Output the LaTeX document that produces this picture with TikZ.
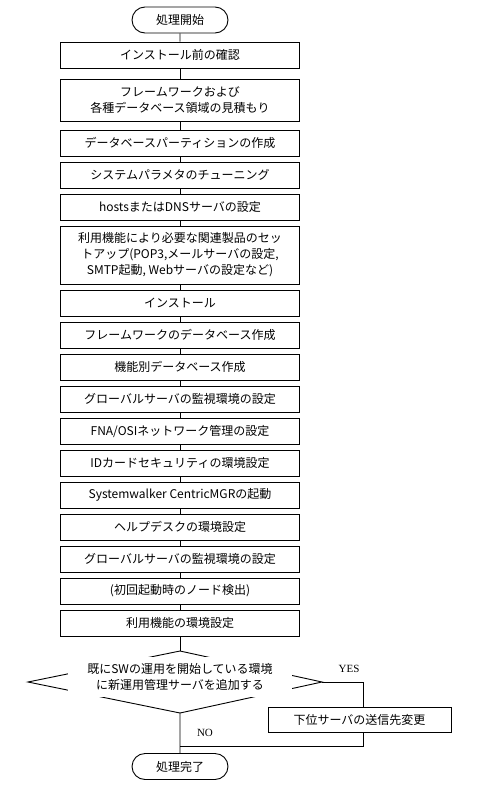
\documentclass[tikz,border=0pt]{standalone}
\usepackage{fontspec}
\setmainfont{Noto Sans CJK JP}
\newfontfamily\yesnofont{Liberation Serif}
\usetikzlibrary{shapes.misc}

\begin{document}
\begin{tikzpicture}[x=1pt,y=-1pt,line width=0.9pt,
	every node/.style={font=\fontsize{12}{16}\selectfont},
	stepbox/.style={draw,minimum width=239pt,minimum height=26pt,inner sep=0pt,align=center},
	termbox/.style={draw,rounded rectangle,minimum width=96pt,minimum height=26pt,inner sep=0pt},
	flagtext/.style={font=\yesnofont\fontsize{11}{13}\selectfont}]
	\useasboundingbox (0,0) rectangle (496,798);
	\node [termbox] (start) at (180,20) {処理開始};
	\node [stepbox] (b1) at (180,55) {インストール前の確認};
	\node [stepbox,minimum height=42pt] (b2) at (180,100) {フレームワークおよび\\各種データベース領域の見積もり};
	\node [stepbox] (b3) at (180,143) {データベースパーティションの作成};
	\node [stepbox] (b4) at (180,175) {システムパラメタのチューニング};
	\node [stepbox] (b5) at (180,207) {hostsまたはDNSサーバの設定};
	\node [stepbox,minimum height=58pt] (b6) at (180,255) {利用機能により必要な関連製品のセッ\\トアップ(POP3,メールサーバの設定,\\SMTP起動, Webサーバの設定など)};
	\node [stepbox] (b7) at (180,303) {インストール};
	\node [stepbox] (b8) at (180,335) {フレームワークのデータベース作成};
	\node [stepbox] (b9) at (180,367) {機能別データベース作成};
	\node [stepbox] (b10) at (180,399) {グローバルサーバの監視環境の設定};
	\node [stepbox] (b11) at (180,431) {FNA/OSIネットワーク管理の設定};
	\node [stepbox] (b12) at (180,463) {IDカードセキュリティの環境設定};
	\node [stepbox] (b13) at (180,495) {Systemwalker CentricMGRの起動};
	\node [stepbox] (b14) at (180,527) {ヘルプデスクの環境設定};
	\node [stepbox] (b15) at (180,559) {グローバルサーバの監視環境の設定};
	\node [stepbox] (b16) at (180,591) {(初回起動時のノード検出)};
	\node [stepbox] (b17) at (180,623) {利用機能の環境設定};
	\foreach \a/\b in {start/b1,b1/b2,b2/b3,b3/b4,b4/b5,b5/b6,b6/b7,b7/b8,b8/b9,
		b9/b10,b10/b11,b11/b12,b12/b13,b13/b14,b14/b15,b15/b16,b16/b17}
		\draw (\a) -- (\b);
	% decision
	\coordinate (dL) at (28,682);
	\coordinate (dT) at (180,651);
	\coordinate (dR) at (322,682);
	\coordinate (dB) at (180,713);
	\draw (dL) -- (dT) -- (dR) -- (dB) -- cycle;
	\node [fill=white,minimum width=224pt,minimum height=40pt,inner sep=0pt,align=center] (q) at (180,677)
		{既にSWの運用を開始している環境\\に新運用管理サーバを追加する};
	\draw (b17) -- (dT);
	\node [stepbox,minimum width=183pt,minimum height=25pt] (chg) at (359.5,719.5) {下位サーバの送信先変更};
	\node [termbox] (end) at (180,766.5) {処理完了};
	\coordinate (yesturn) at (363,682);
	\coordinate (nojoin) at (180,746);
	\draw (dR) -| (chg.north -| yesturn);
	\draw (chg.south -| yesturn) |- (nojoin);
	\draw (dB) -- (end);
	\node [flagtext] (yes) at (349,669) {YES};
	\node [flagtext] (no) at (205,733) {NO};
\end{tikzpicture}
\end{document}
